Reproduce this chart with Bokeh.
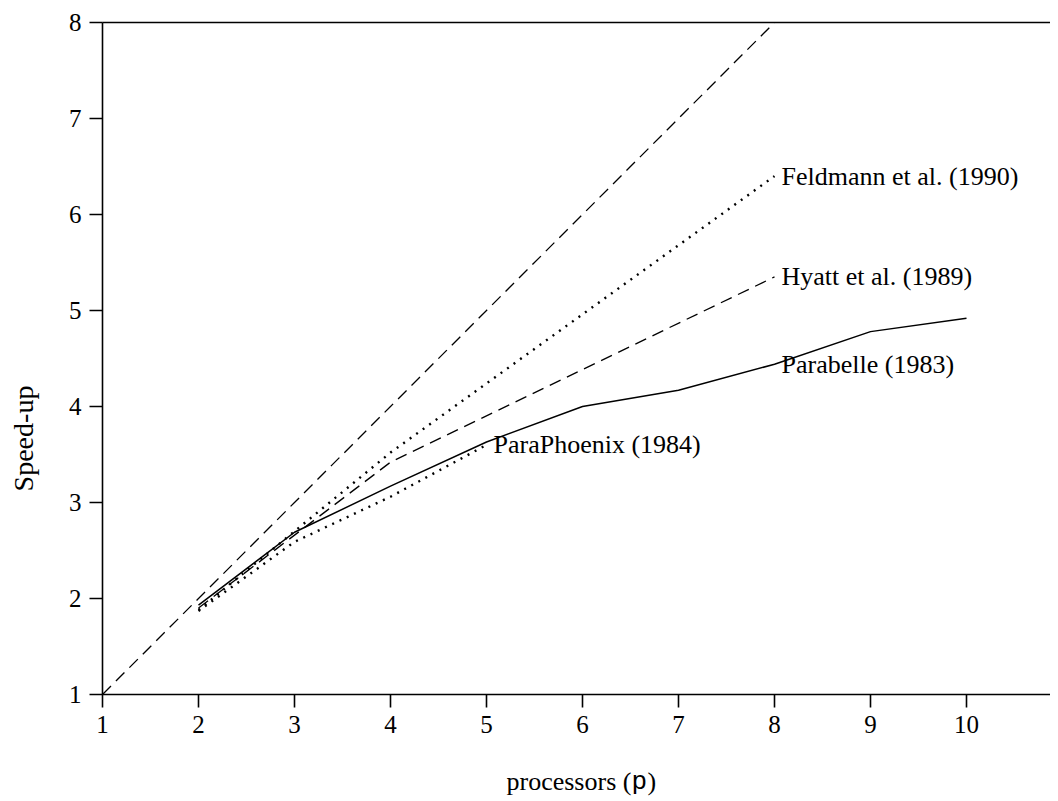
import math
from bokeh.plotting import figure
from bokeh.models import FixedTicker, Label, Range1d, LinearAxis
from bokeh.core.properties import value
from bokeh.embed import file_html
from bokeh.resources import INLINE

# ---- data ----
ideal_x = [1, 2, 3, 4, 5, 6, 7, 8]
ideal_y = [1, 2, 3, 4, 5, 6, 7, 8]

parabelle_x = [2, 3, 4, 5, 6, 7, 8, 9, 10]
parabelle_y = [1.93, 2.69, 3.17, 3.63, 4.00, 4.17, 4.44, 4.78, 4.92]

hyatt_x = [2, 4, 8]
hyatt_y = [1.90, 3.42, 5.35]

feldmann_x = [2, 4, 8]
feldmann_y = [1.88, 3.52, 6.40]

paraphoenix_x = [2, 3, 4, 5]
paraphoenix_y = [1.87, 2.59, 3.06, 3.60]

label_texts = ["Feldmann et al. (1990)", "Hyatt et al. (1989)", "Parabelle (1983)", "ParaPhoenix (1984)"]
label_x = [feldmann_x[-1], hyatt_x[-1], parabelle_x[6], paraphoenix_x[-1]]
label_y = [feldmann_y[-1], hyatt_y[-1], parabelle_y[6], paraphoenix_y[-1]]

x_ticks = [1, 2, 3, 4, 5, 6, 7, 8, 9, 10]
y_ticks = [1, 2, 3, 4, 5, 6, 7, 8]

SERIF = "Liberation Serif"
MONO = "Liberation Mono"

W, H = 1050, 797
PX = 96.0  # pixels per data unit
X0 = 1 - 102 / PX
Y1 = 8 + 22 / PX

p = figure(width=W, height=H, output_backend="svg", toolbar_location=None, title=None,
           x_axis_type=None, y_axis_type=None,
           x_range=Range1d(X0, X0 + W / PX), y_range=Range1d(Y1 - H / PX, Y1),
           min_border_left=0, min_border_top=0, min_border_bottom=0, min_border_right=0)
p.outline_line_color = None
p.background_fill_color = "white"
p.border_fill_color = "white"


def make_axis(ticks, loc, bounds):
    ax = LinearAxis(ticker=FixedTicker(ticks=ticks), fixed_location=loc, bounds=bounds)
    ax.minor_tick_line_color = None
    ax.major_tick_in = 0
    ax.major_tick_out = 13
    ax.axis_line_width = 1.6
    ax.axis_line_color = "black"
    ax.major_tick_line_width = 1.6
    ax.major_tick_line_color = "black"
    ax.major_label_text_font = SERIF
    ax.major_label_text_font_size = "25px"
    ax.major_label_text_color = "black"
    return ax


xax = make_axis(x_ticks, 1, (1, 11))
xax.major_label_standoff = 8
p.add_layout(xax, "below")

yax = make_axis(y_ticks, 1, (1, 8))
yax.major_label_standoff = 8
p.add_layout(yax, "left")

top = LinearAxis(ticker=FixedTicker(ticks=[]), fixed_location=8, bounds=(1, 11))
top.axis_line_width = 1.6
top.axis_line_color = "black"
top.major_tick_line_color = None
top.minor_tick_line_color = None
top.major_label_text_font_size = "0px"
p.add_layout(top, "above")

# series
p.line(ideal_x, ideal_y, line_color="black", line_width=1.3, line_dash="12 7")
p.line(parabelle_x, parabelle_y, line_color="black", line_width=1.5)
p.line(hyatt_x, hyatt_y, line_color="black", line_width=1.3, line_dash="12 7")
p.line(feldmann_x, feldmann_y, line_color="black", line_width=2.4, line_dash="2 6")
p.line(paraphoenix_x, paraphoenix_y, line_color="black", line_width=2.4, line_dash="2 6")

p.text(x=label_x, y=label_y, text=label_texts, x_offset=7,
       text_font=value(SERIF), text_font_size="26px", text_baseline="middle",
       text_align="left", text_color="black")

# axis titles
xl_x = X0 + 506 / PX
xl_y = Y1 - 781 / PX
for txt, font, off in (("processors (", SERIF, 0), ("p", MONO, 125), (")", SERIF, 141)):
    p.add_layout(Label(x=xl_x, y=xl_y, x_offset=off, text=txt, text_font=font,
                       text_font_size="26px", text_baseline="middle",
                       text_align="left", text_color="black"))

p.add_layout(Label(x=X0 + 23 / PX, y=Y1 - 438 / PX, text="Speed-up", angle=math.pi / 2,
                   text_font=SERIF, text_font_size="28px", text_baseline="middle",
                   text_align="center", text_color="black"))

open("out.html", "w").write(file_html(p, INLINE))
